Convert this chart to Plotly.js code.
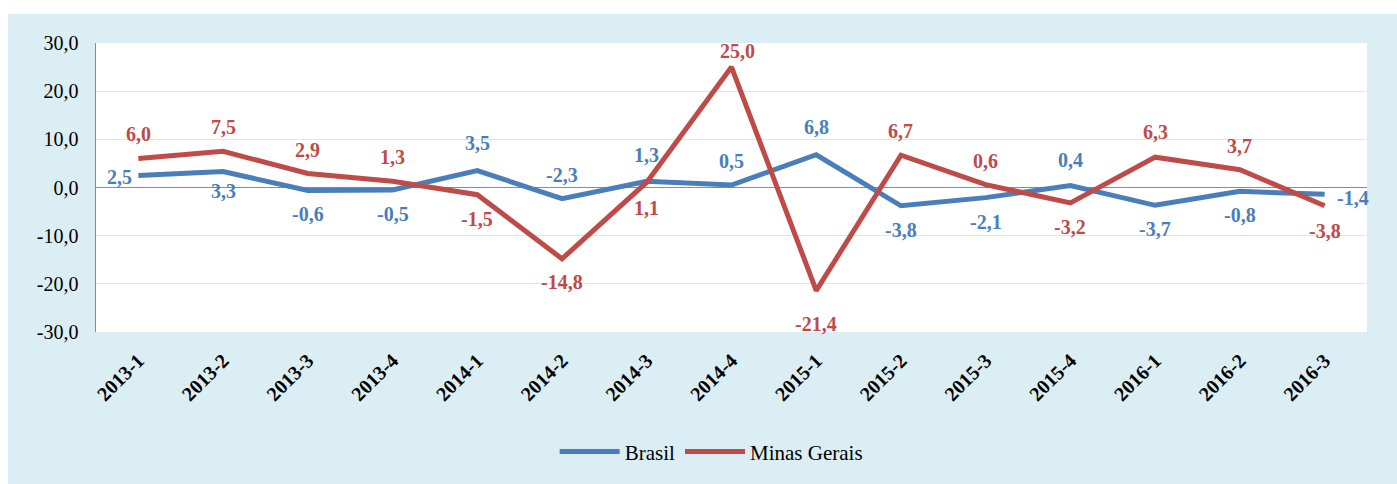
<!DOCTYPE html>
<html><head><meta charset="utf-8">
<script src="https://cdn.plot.ly/plotly-3.0.1.min.js"></script>
<style>
html,body{margin:0;padding:0;background:#fff;}
#chart{position:absolute;left:8px;top:14px;width:1389px;height:470px;}
</style></head>
<body><div id="chart"></div>
<script>
const categories = ["2013-1","2013-2","2013-3","2013-4","2014-1","2014-2","2014-3","2014-4","2015-1","2015-2","2015-3","2015-4","2016-1","2016-2","2016-3"];
const brasil = [2.5, 3.3, -0.6, -0.5, 3.5, -2.3, 1.3, 0.5, 6.8, -3.8, -2.1, 0.4, -3.7, -0.8, -1.4];
const minas = [6.0, 7.5, 2.9, 1.3, -1.5, -14.8, 1.1, 25.0, -21.4, 6.7, 0.6, -3.2, 6.3, 3.7, -3.8];
const yTicks = [-30, -20, -10, 0, 10, 20, 30];

// label placement (style): a=above, b=below, l=left, r=right, with pixel distance
const brasilPos = ["l","b","b","b","a","a","a","a","a","b","b","a","b","b","r"];
const brasilDist = [19, 19, 24, 24, 28, 24, 26, 24, 28, 24, 24, 26, 24, 24, 28];
const minasPos  = ["a","a","a","a","b","b","b","a","b","a","a","b","a","a","b"];
const minasDist = [25, 24, 24, 24, 24, 23, 26, 16, 33, 24, 24, 24, 25, 24, 25];

const SERIF = "Liberation Serif";
const BLUE = "#4a7ebb", RED = "#be4b48";
const fmt = v => v.toFixed(1).replace(".", ",");

function labels(vals, pos, dist, color) {
  return vals.map((v, i) => {
    const p = pos[i], d = dist[i];
    let xs = 0, ys = 0;
    if (p === "a") ys = d;
    else if (p === "b") ys = -d;
    else if (p === "l") { xs = -d; ys = -2; }
    else if (p === "r") { xs = d; ys = -4; }
    if (i === 7 && vals === minas) xs = 6;
    return {
      x: categories[i], y: v, xref: "x", yref: "y", text: fmt(v), showarrow: false,
      xshift: xs, yshift: ys,
      font: {family: SERIF, size: 20, color: color, weight: "bold"}
    };
  });
}

const traces = [
  {x: categories, y: brasil, name: "Brasil", type: "scatter", mode: "lines",
   line: {color: BLUE, width: 5}},
  {x: categories, y: minas, name: "Minas Gerais", type: "scatter", mode: "lines",
   line: {color: RED, width: 5}}
];

const layout = {
  width: 1389, height: 470,
  margin: {l: 88, r: 30, t: 29, b: 150},
  paper_bgcolor: "#dbeef4", plot_bgcolor: "#ffffff",
  font: {family: SERIF, color: "#000"},
  showlegend: true,
  legend: {orientation: "h", x: 0.484, xanchor: "center", y: -0.415, yanchor: "middle",
    font: {family: SERIF, size: 21, color: "#000"}, bgcolor: "rgba(0,0,0,0)",
    itemwidth: 60, tracegroupgap: 0},
  xaxis: {type: "category", range: [-0.5, 14.5], tickangle: -45, showgrid: false,
    zeroline: false, showline: false, ticks: "", ticklabelstandoff: 12,
    tickfont: {family: SERIF, size: 20, color: "#000", weight: "bold"}},
  yaxis: {range: [-30, 30], tickvals: yTicks, ticktext: yTicks.map(fmt),
    showgrid: true, gridcolor: "#e4e4e4", gridwidth: 1,
    zeroline: true, zerolinecolor: "#8c8c8c", zerolinewidth: 1.5,
    showline: true, linecolor: "#8c8c8c", linewidth: 1.5, ticks: "", ticklabelstandoff: 12,
    tickfont: {family: SERIF, size: 20, color: "#000"}},
  annotations: labels(brasil, brasilPos, brasilDist, BLUE).concat(labels(minas, minasPos, minasDist, RED))
};

Plotly.newPlot("chart", traces, layout, {displayModeBar: false, staticPlot: true});
</script></body></html>
